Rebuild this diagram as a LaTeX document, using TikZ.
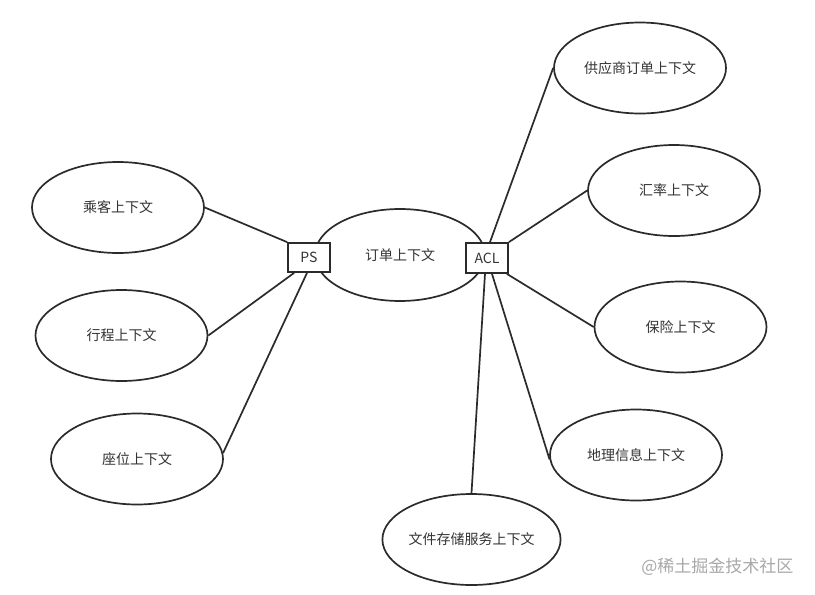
\documentclass[tikz,border=0pt]{standalone}
\usepackage{fontspec}
\setmainfont{Noto Sans CJK SC}
\usetikzlibrary{shapes.geometric,calc,backgrounds}
\definecolor{ln}{HTML}{2B2B2B}
\definecolor{tx}{HTML}{333333}
\definecolor{wm}{HTML}{A8A8A8}
\begin{document}
\begin{tikzpicture}[x=1pt,y=-1pt,
 ctx/.style={ellipse,draw=ln,line width=1.7pt,inner sep=0pt,minimum width=172pt,minimum height=91pt,text=tx,font=\fontsize{14}{16}\selectfont},
 gate/.style={rectangle,draw=ln,fill=white,line width=1.8pt,inner sep=0pt,minimum width=42pt,minimum height=29pt,text=tx,font=\fontsize{14}{16}\selectfont},
 link/.style={draw=ln,line width=1.7pt}]

\node[ctx,minimum width=170pt,minimum height=92pt] (order) at (400,255) {订单上下文};
\node[ctx] (ck) at (118,207.5) {乘客上下文};
\node[ctx] (xc) at (121.5,335.5) {行程上下文};
\node[ctx] (zw) at (137,459) {座位上下文};
\node[ctx] (gys) at (640,68) {供应商订单上下文};
\node[ctx] (hl) at (674,190.5) {汇率上下文};
\node[ctx] (bx) at (680.5,327) {保险上下文};
\node[ctx] (dl) at (636,455) {地理信息上下文};
\node[ctx] (wj) at (471.5,539.5) {文件存储服务上下文};

\node[gate] (ps) at (309,257.5) {PS};
\node[gate,minimum height=30pt] (acl) at (487,258) {ACL};

\node[text=wm,font=\fontsize{17}{19}\selectfont,anchor=east] (wmk) at (797,567) {@稀土掘金技术社区};

\begin{scope}[on background layer]
\path[use as bounding box,fill=white] (0,0) rectangle (815,595);
\draw[link] (ck.east) -- (ps.north west);
\draw[link] (xc.east) -- ($(ps.south west)+(7,0)$);
\draw[link] (zw.4) -- ($(ps.south)+(-2,0)$);
\draw[link] (gys.west) -- ($(acl.north)+(3,0)$);
\draw[link] (hl.west) -- (acl.north east);
\draw[link] (bx.west) -- ($(acl.south east)+(-2,0)$);
\draw[link] (dl.183) -- ($(acl.south)+(5,0)$);
\draw[link] (wj.north) -- ($(acl.south)+(-2,0)$);
\end{scope}
\end{tikzpicture}
\end{document}
